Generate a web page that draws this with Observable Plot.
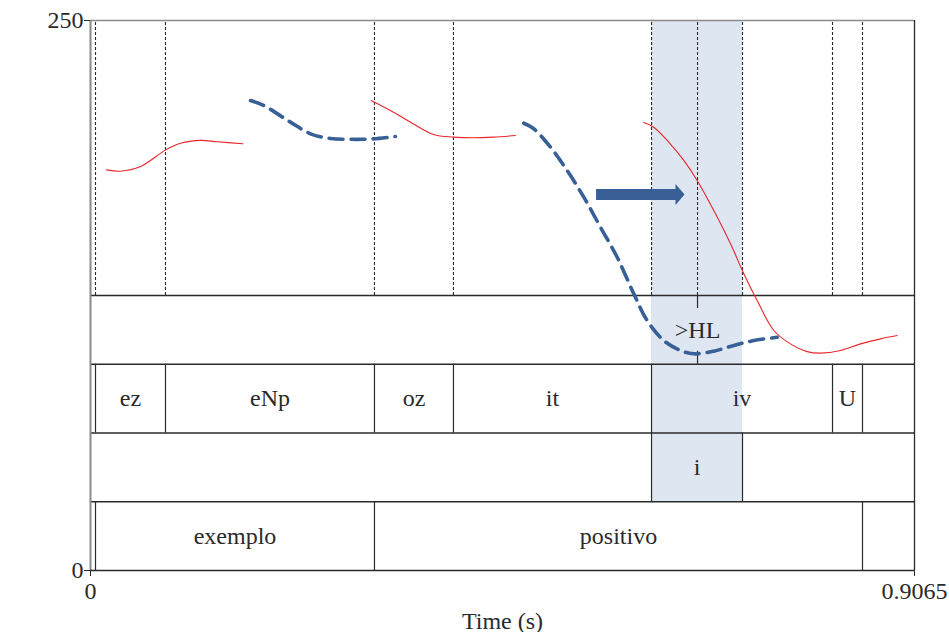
<!DOCTYPE html>
<html>
<head>
<meta charset="utf-8">
<script src="https://cdn.jsdelivr.net/npm/d3@7"></script>
<script src="https://cdn.jsdelivr.net/npm/@observablehq/plot@0.6"></script>
<style>
  html, body { margin: 0; padding: 0; background: #fff; }
  #chart svg, #chart svg text { font-family: "Liberation Serif", "DejaVu Serif", serif !important; }
  #chart svg { font-size: 24px; }
</style>
</head>
<body>
<div id="chart"></div>
<script>
// ---- Data (time in s, pitch on the 0–250 axis) ----
const xTicks = [0, 0.9065];
const yTicks = [0, 250];

// TextGrid tiers
const toneTimes = [0.6678];
const toneLabels = [">HL"];
const segBounds = [0.0055, 0.0825, 0.3124, 0.3993, 0.6172, 0.8163, 0.8493];
const segLabels = ["ez", "eNp", "oz", "it", "iv", "U"];
const syllBounds = [0.6172, 0.7173];
const syllLabels = ["i"];
const wordBounds = [0.0055, 0.3124, 0.8493];
const wordLabels = ["exemplo", "positivo"];

// Red (solid) pitch contour pieces: [time, value]
const red1 = [[0.0176,182.1],[0.0330,181.5],[0.0550,183.6],[0.0828,191.2],[0.0990,194.2],[0.1210,195.5],[0.1394,194.9],[0.1675,194.0]];
const red2 = [[0.3088,213.6],[0.3333,208.3],[0.3553,203.0],[0.3773,198.2],[0.3993,197.0],[0.4213,196.7],[0.4433,197.0],[0.4675,197.7]];
const red3 = [[0.6087,203.6],[0.6197,201.5],[0.6344,195.5],[0.6527,186.4],[0.6674,177.3],[0.6857,163.6],[0.7041,148.5],[0.7187,134.9],[0.7334,122.7],[0.7517,109.1],[0.7701,103.0],[0.7884,99.5],[0.8031,98.8],[0.8251,100.0],[0.8471,103.0],[0.8691,105.3],[0.8875,106.8]];
// Blue (dashed) stylised contour pieces
const blue1 = [[0.1760,213.6],[0.1903,211.4],[0.2200,203.8],[0.2420,198.5],[0.2640,196.4],[0.2860,196.0],[0.3113,196.2],[0.3355,197.3]];
const blue2 = [[0.4767,203.3],[0.4873,200.9],[0.5061,192.4],[0.5244,181.8],[0.5427,169.7],[0.5611,156.0],[0.5794,142.4],[0.5977,125.8],[0.6124,113.6],[0.6307,104.5],[0.6491,100.0],[0.6637,98.5],[0.6857,99.7],[0.7077,102.3],[0.7297,104.5],[0.7554,106.0]];
// Arrow annotation
const arrowStart = [0.5567];
const arrowTip = [0.6535];
const arrowLevel = [170.9];

// ---- Layout (derived) ----
const xMax = xTicks[1], yMax = yTicks[1];
const nTiers = 4;
const tierH = yMax / 2 / nTiers;            // tiers fill lower half
const tierTop = i => yMax / 2 - i * tierH;   // i = 0..3
const tierBottom = i => tierTop(i) - tierH;
const tierMid = i => tierTop(i) - tierH / 2;

const intervals = (bounds, labels) => labels.map((l, k) => ({a: bounds[k], b: bounds[k + 1], label: l, mid: (bounds[k] + bounds[k + 1]) / 2}));
const segs = intervals(segBounds, segLabels);
const sylls = intervals(syllBounds, syllLabels);
const words = intervals(wordBounds, wordLabels);
const tones = toneTimes.map((t, k) => ({t, label: toneLabels[k]}));

const allBoundaries = Array.from(new Set([...segBounds, ...toneTimes, ...syllBounds])).sort(d3.ascending);
const toPts = arr => arr.map(([t, v]) => ({t, v}));

const RED = "#e8262c", BLUE = "#386097", SHADE = "#dde6f1", INK = "#2a2a2a";
const FONT = "Liberation Serif, DejaVu Serif, serif";
const tickLen = tierH * 0.19;

const headSymbol = {
  draw(ctx) {
    ctx.moveTo(0, 0);
    ctx.lineTo(-9, -10.5);
    ctx.lineTo(-9, 10.5);
    ctx.closePath();
  }
};

const txt = {fill: INK, fontFamily: FONT, fontSize: 24};

const chart = Plot.plot({
  width: 949,
  height: 632,
  marginLeft: 90,
  marginRight: 35,
  marginTop: 20,
  marginBottom: 62,
  style: {fontFamily: FONT, fontSize: "24px", color: INK, background: "#fff"},
  x: {domain: [0, xMax]},
  y: {domain: [0, yMax]},
  marks: [
    // highlighted syllable band
    Plot.rectX(sylls, {x1: "a", x2: "b", y1: tierBottom(2), y2: yMax, fill: SHADE}),
    // boundary lines in pitch area
    Plot.ruleX(allBoundaries, {x: d => d, y1: tierTop(0), y2: yMax, stroke: INK, strokeWidth: 1.1, strokeDasharray: "3,2"}),
    // tier separators
    Plot.ruleY([0, 1, 2, 3].map(tierTop), {y: d => d, x1: 0, x2: xMax, stroke: INK, strokeWidth: 1.3}),
    // tone tier point ticks
    Plot.ruleX(tones, {x: "t", y1: tierTop(0), y2: tierTop(0) - tickLen, stroke: INK, strokeWidth: 1.2}),
    Plot.ruleX(tones, {x: "t", y1: tierBottom(0), y2: tierBottom(0) + tickLen, stroke: INK, strokeWidth: 1.2}),
    // interval boundaries
    Plot.ruleX(segBounds, {x: d => d, y1: tierBottom(1), y2: tierTop(1), stroke: INK, strokeWidth: 1.2}),
    Plot.ruleX(syllBounds, {x: d => d, y1: tierBottom(2), y2: tierTop(2), stroke: INK, strokeWidth: 1.2}),
    Plot.ruleX(wordBounds, {x: d => d, y1: tierBottom(3), y2: tierTop(3), stroke: INK, strokeWidth: 1.2}),
    // frame
    Plot.ruleX([0], {x: d => d, y1: 0, y2: yMax, stroke: "#8a8a8a", strokeWidth: 2}),
    Plot.ruleY([yMax], {y: d => d, x1: 0, x2: xMax, stroke: "#8a8a8a", strokeWidth: 1.5}),
    Plot.ruleX([xMax], {x: d => d, y1: 0, y2: yMax, stroke: INK, strokeWidth: 1.3}),
    Plot.ruleY([0], {y: d => d, x1: 0, x2: xMax, stroke: INK, strokeWidth: 1.5}),
    // pitch contours
    ...[red1, red2, red3].map(s => Plot.line(toPts(s), {x: "t", y: "v", stroke: RED, strokeWidth: 1.1, curve: "catmull-rom"})),
    ...[blue1, blue2].map(s => Plot.line(toPts(s), {x: "t", y: "v", stroke: BLUE, strokeWidth: 3.6, strokeDasharray: "14,8", curve: "catmull-rom"})),
    // arrow
    Plot.ruleY(arrowLevel, {y: d => d, x1: arrowStart[0], x2: arrowTip[0], stroke: BLUE, strokeWidth: 11, insetRight: 8}),
    Plot.dot(arrowLevel, {x: () => arrowTip[0], y: d => d, symbol: headSymbol, fill: BLUE, stroke: "none"}),
    // tier labels
    Plot.text(tones, {x: "t", y: tierMid(0), text: "label", ...txt}),
    Plot.text(segs, {x: "mid", y: tierMid(1), text: "label", ...txt}),
    Plot.text(sylls, {x: "mid", y: tierMid(2), text: "label", ...txt}),
    Plot.text(words, {x: "mid", y: tierMid(3), text: "label", ...txt}),
    // axes
    Plot.axisY({ticks: yTicks, tickSize: 6, tickPadding: 1, label: null, tickFormat: d => String(d), fontFamily: FONT, fontSize: 24}),
    Plot.axisX({ticks: xTicks, tickSize: 6, tickPadding: 5, tickFormat: d => String(d), label: "Time (s)", labelAnchor: "center", labelArrow: "none", labelOffset: 58, fontFamily: FONT, fontSize: 24})
  ]
});
document.getElementById("chart").appendChild(chart);
</script>
</body>
</html>
